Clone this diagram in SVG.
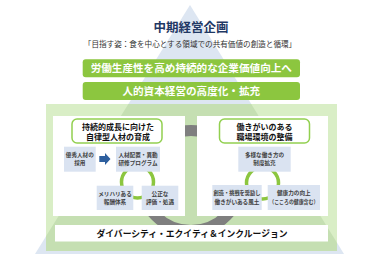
<svg xmlns="http://www.w3.org/2000/svg" width="377" height="263" viewBox="0 0 377 263">
<style>
text{font-family:"Noto Sans CJK JP","Noto Sans",sans-serif;text-anchor:middle}
.ttl{font-size:12.5px;font-weight:bold;fill:#1f3864}
.sub{font-size:7.6px;fill:#333}
.bar{fill:#8cc63f}
.bt{font-size:10.6px;font-weight:bold;fill:#fff}
.panel{fill:#fff}
.hb{fill:#fff;stroke:#92d050;stroke-width:1.5}
.ht{font-size:8px;font-weight:bold;fill:#111}
.box{fill:#dae3f1}
.st{font-size:5.6px;font-weight:bold;fill:#404040}
.cyc{fill:none;stroke:#8cc63f;stroke-width:3.5}
</style>
<defs>
<clipPath id="fc"><rect x="46" y="104" width="291" height="147"/></clipPath>
</defs>
<!-- background pyramid and frame -->
<polygon points="190,5 35,254 344,254" fill="#dde6f2"/>
<rect x="46" y="104" width="291" height="147" fill="#d9eec6"/>
<polygon points="190,5 35,254 344,254" fill="#c5dfb2" clip-path="url(#fc)"/>
<circle cx="191" cy="180.5" r="50" fill="none" stroke="#7f7f7f" stroke-width="11"/>

<g id="title">
<text class="ttl" x="191" y="32">中期経営企画</text>
<text class="sub" x="190" y="46.5">「目指す姿：食を中心とする領域での共有価値の創造と循環」</text>
</g>
<g id="goal">
<rect class="bar" x="82.7" y="59.3" width="217.3" height="18" rx="3"/>
<text class="bt" x="191.3" y="72.2">労働生産性を高め持続的な企業価値向上へ</text>
</g>
<g id="strategy">
<rect class="bar" x="82.7" y="82" width="217.3" height="18" rx="3"/>
<text class="bt" x="191.3" y="94.9">人的資本経営の高度化・拡充</text>
</g>

<g id="left-panel">
<rect class="panel" x="53" y="116" width="132" height="100"/>
<rect class="hb" x="72" y="119" width="90" height="24" rx="5"/>
<text class="ht" x="118" y="129.5">持続的成長に向けた</text>
<text class="ht" x="118" y="140">自律型人材の育成</text>
</g>
<g id="right-panel">
<rect class="panel" x="197" y="116" width="131" height="100"/>
<rect class="hb" x="219.5" y="119" width="90" height="24" rx="5"/>
<text class="ht" x="264.5" y="129.5">働きがいのある</text>
<text class="ht" x="264.5" y="140">職場環境の整備</text>
</g>

<g id="connectors">
<polygon points="99.3,156 105,156 105,153 110.5,159 105,165 105,162 99.3,162" fill="#2e5f9e"/>
<circle class="cyc" cx="137.5" cy="182" r="16"/>
<circle class="cyc" cx="262.5" cy="183" r="16"/>
</g>

<g id="recruit">
<rect class="box" x="64" y="146.7" width="31.7" height="25"/>
<text class="st" x="79.8" y="157">優秀人材の</text>
<text class="st" x="79.8" y="165.3">採用</text>
</g>
<g id="placement">
<rect class="box" x="116" y="146.7" width="44" height="25"/>
<text class="st" x="138" y="157">人材配置・異動</text>
<text class="st" x="138" y="165.3">研修プログラム</text>
</g>
<g id="reward">
<rect class="box" x="96.7" y="185.7" width="36.6" height="24.3"/>
<text class="st" x="115" y="195.5">メリハリある</text>
<text class="st" x="115" y="204">報酬体系</text>
</g>
<g id="evaluation">
<rect class="box" x="141.7" y="185.7" width="36.6" height="24.3"/>
<text class="st" x="160" y="195.5">公正な</text>
<text class="st" x="160" y="204">評価・処遇</text>
</g>
<g id="workstyle">
<rect class="box" x="238.3" y="146.7" width="52.4" height="25"/>
<text class="st" x="264.5" y="157">多様な働き方の</text>
<text class="st" x="264.5" y="165.3">制度拡充</text>
</g>
<g id="culture">
<rect class="box" x="212.3" y="185" width="49.4" height="25"/>
<text class="st" x="237" y="195.2" textLength="47" lengthAdjust="spacingAndGlyphs">創造・挑戦を奨励し</text>
<text class="st" x="237" y="203.7">働きがいある風土</text>
</g>
<g id="health">
<rect class="box" x="267.7" y="185" width="52.3" height="25"/>
<text class="st" x="293.8" y="195.2">健康力の向上</text>
<text class="st" x="293.8" y="203.7" textLength="49" lengthAdjust="spacingAndGlyphs">（こころの健康含む）</text>
</g>

<g id="dei">
<rect fill="#fff" x="55" y="225" width="273" height="16.5"/>
<text x="192" y="236.8" font-size="9.2" font-weight="bold" fill="#111" textLength="191" lengthAdjust="spacingAndGlyphs">ダイバーシティ・エクイティ＆インクルージョン</text>
</g>
</svg>
